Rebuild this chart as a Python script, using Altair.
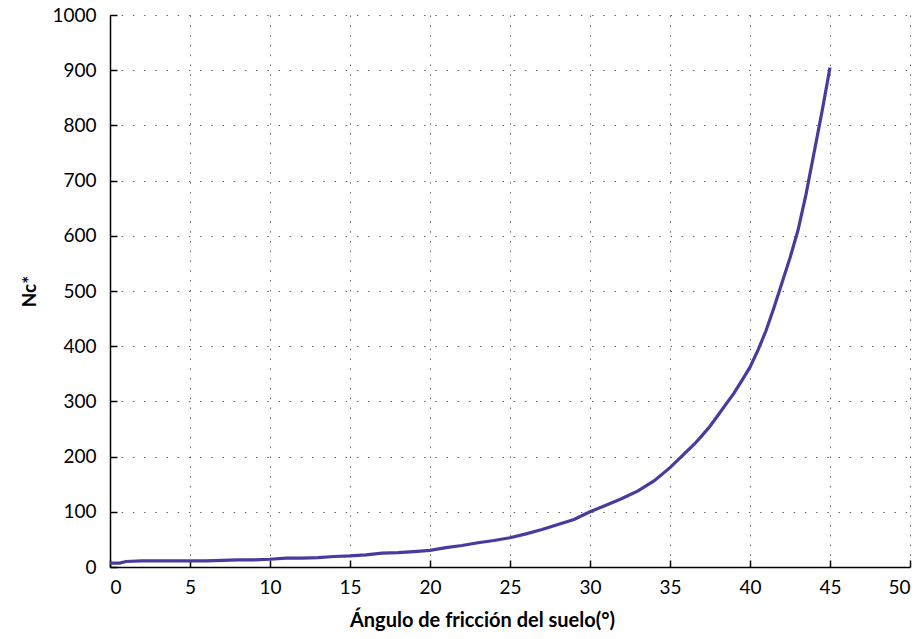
import altair as alt
import pandas as pd

# Ángulo de fricción (°) and Nc*
phi = [0, 0.6, 1, 2, 3, 4, 5, 6, 7, 8, 9, 10, 11, 12, 13, 14, 15, 16, 17, 18, 19,
       20, 21, 22, 23, 24, 25, 26, 27, 28, 29, 30, 31, 32, 33, 34, 35, 36, 36.5, 37,
       37.5, 38, 38.5, 39, 39.5, 40, 40.5, 41, 41.5, 42, 42.5, 43, 43.5, 44, 44.5, 45]
nc = [7, 7, 10, 11, 11, 11, 11, 11, 12, 13, 13, 14, 16, 16, 17, 19, 20, 22, 25, 26, 28,
      30, 35, 39, 44, 48, 53, 60, 68, 77, 86, 100, 112, 124, 138, 156, 180, 208, 222, 238,
      255, 275, 295, 315, 338, 362, 393, 428, 470, 515, 560, 610, 675, 750, 825, 905]

x_ticks = list(range(0, 51, 5))
y_ticks = list(range(0, 1001, 100))

df = pd.DataFrame({"phi": phi, "nc": nc})

FONT = "Lato"
LINE_COLOR = "#4B3A9E"

x_main = alt.X(
    "phi:Q",
    scale=alt.Scale(domain=[0, 50], nice=False, zero=True),
    axis=alt.Axis(
        orient="bottom",
        values=x_ticks,
        format="d",
        title="Ángulo de fricción del suelo(°)",
        titleFont=FONT, titleFontSize=20, titleFontWeight="bold", titleColor="black",
        titlePadding=13, titleX=372, titleAlign="center",
        labelFont=FONT, labelFontSize=19, labelColor="black", labelPadding=11,
        tickSize=0, domainColor="black", domainWidth=1.5,
        grid=True, gridColor="#666666", gridDash=[1.5, 8.3], gridWidth=1,
    ),
)
y_main = alt.Y(
    "nc:Q",
    scale=alt.Scale(domain=[0, 1000], nice=False),
    axis=alt.Axis(
        orient="left",
        values=y_ticks,
        format="d",
        title="Nc*",
        titleFont=FONT, titleFontSize=19, titleFontWeight="bold", titleColor="black",
        titlePadding=12,
        labelFont=FONT, labelFontSize=19, labelColor="black", labelPadding=14,
        tickSize=0, domainColor="black", domainWidth=1.5,
        grid=True, gridColor="#666666", gridDash=[1.5, 9.7], gridWidth=1,
    ),
)

line = alt.Chart(df).mark_line(color=LINE_COLOR, strokeWidth=3.2).encode(x=x_main, y=y_main)

# Second set of axes only for the inward-pointing tick marks
x_ticks_axis = alt.X(
    "phi:Q",
    scale=alt.Scale(domain=[0, 50], nice=False, zero=True),
    axis=alt.Axis(orient="bottom", values=x_ticks, offset=-7, tickSize=7, tickColor="black",
                  tickWidth=1.5, labels=False, domain=False, grid=False, title=None),
)
y_ticks_axis = alt.Y(
    "nc:Q",
    scale=alt.Scale(domain=[0, 1000], nice=False),
    axis=alt.Axis(orient="left", values=y_ticks, offset=-7, tickSize=7, tickColor="black",
                  tickWidth=1.5, labels=False, domain=False, grid=False, title=None),
)
tick_layer = alt.Chart(df).mark_line(opacity=0).encode(x=x_ticks_axis, y=y_ticks_axis)

chart = (
    alt.layer(tick_layer, line)
    .resolve_axis(x="independent", y="independent")
    .properties(
        width=800,
        height=552,
        autosize=alt.AutoSizeParams(type="none"),
        padding={"left": 110, "top": 15, "right": 14, "bottom": 72},
        background="white",
    )
    .configure_view(stroke=None)
)

chart.save("out.html", embed_options={"renderer": "svg", "actions": False})
